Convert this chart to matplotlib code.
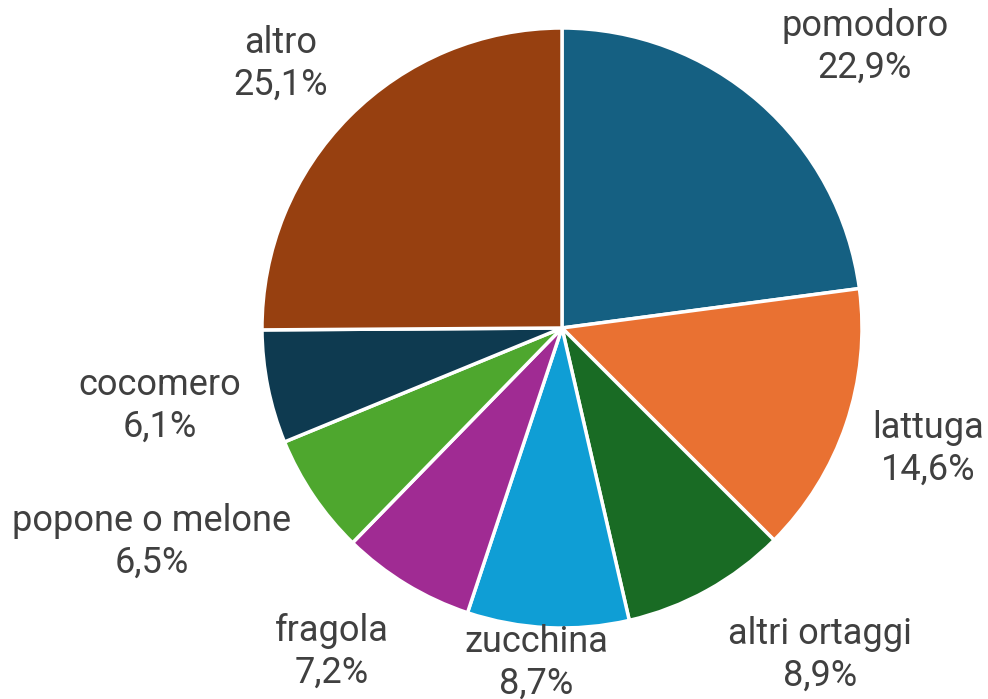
import matplotlib
matplotlib.use('Agg')
import matplotlib.pyplot as plt

plt.rcParams['font.family'] = ['Roboto', 'DejaVu Sans']

categories = ['pomodoro', 'lattuga', 'altri ortaggi', 'zucchina', 'fragola',
              'popone o melone', 'cocomero', 'altro']
shares = [22.9, 14.6, 8.9, 8.7, 7.2, 6.5, 6.1, 25.1]
colors = ['#156082', '#e97132', '#196b24', '#0f9ed5', '#a02b93',
          '#4ea72e', '#0e3a50', '#974010']

# label centres in pixel coordinates (x, y from bottom)
label_pos = [(865, 652), (928, 250), (820, 44), (536, 36), (332, 47),
             (152, 157), (160, 293), (281, 635)]

W, H = 988, 699
fig = plt.figure(figsize=(W / 100, H / 100), dpi=100)
ax = fig.add_axes([0, 0, 1, 1])

ax.pie(shares, colors=colors, startangle=90, counterclock=False,
       center=(562, H - 328), radius=300,
       wedgeprops=dict(edgecolor='white', linewidth=2.5))

ax.set_xlim(0, W)
ax.set_ylim(0, H)
ax.set_aspect('equal')
ax.axis('off')

for name, val, (x, y) in zip(categories, shares, label_pos):
    txt = f'{name}\n{val:.1f}%'.replace('.', ',')
    ax.text(x, y, txt, ha='center', va='center', fontsize=26,
            color='#404040', linespacing=1.2)

fig.savefig('out.png', dpi=100)
